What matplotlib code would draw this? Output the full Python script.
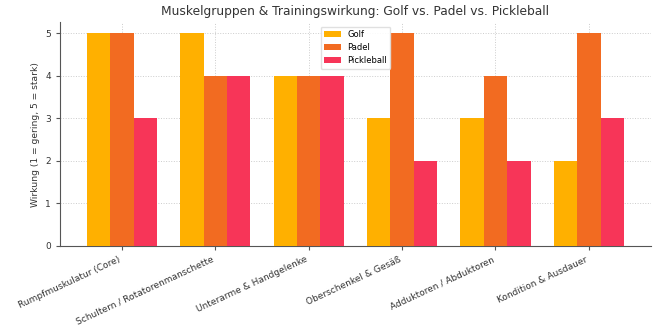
import numpy as np
import matplotlib.pyplot as plt

# Daten
muskelgruppen = ['Rumpfmuskulatur (Core)', 'Schultern / Rotatorenmanschette',
                 'Unterarme & Handgelenke', 'Oberschenkel & Gesäß',
                 'Adduktoren / Abduktoren', 'Kondition & Ausdauer']
golf = [5, 5, 4, 3, 3, 2]
padel = [5, 4, 4, 5, 4, 5]
pickleball = [3, 4, 4, 2, 2, 3]

farben = ['#FFB000', '#F26B21', '#F73558']

x = np.arange(len(muskelgruppen))
breite = 0.25

fig, ax = plt.subplots(figsize=(6.6, 3.3), dpi=100)
fig.subplots_adjust(left=0.091, right=0.986, top=0.932, bottom=0.255)

ax.bar(x - breite, golf, breite, label='Golf', color=farben[0], zorder=3)
ax.bar(x, padel, breite, label='Padel', color=farben[1], zorder=3)
ax.bar(x + breite, pickleball, breite, label='Pickleball', color=farben[2], zorder=3)

ax.set_title('Muskelgruppen & Trainingswirkung: Golf vs. Padel vs. Pickleball',
             fontsize=8.8, color='#333333', pad=5)
ax.set_ylabel('Wirkung (1 = gering, 5 = stark)', fontsize=6.6, color='#333333')
ax.set_xticks(x)
ax.set_xticklabels(muskelgruppen, rotation=25, ha='right', fontsize=6.5, color='#333333')
ax.tick_params(axis='y', labelsize=6.5, colors='#333333')
ax.tick_params(axis='both', length=3, color='#555555')
ax.set_ylim(0, 5.25)

ax.grid(True, linestyle=':', color='#cccccc', linewidth=0.7, zorder=0)
for s in ['top', 'right']:
    ax.spines[s].set_visible(False)
for s in ['left', 'bottom']:
    ax.spines[s].set_color('#555555')

ax.legend(loc='upper center', fontsize=6, framealpha=0.9, edgecolor='#dddddd')

plt.savefig('out.png', dpi=100)
